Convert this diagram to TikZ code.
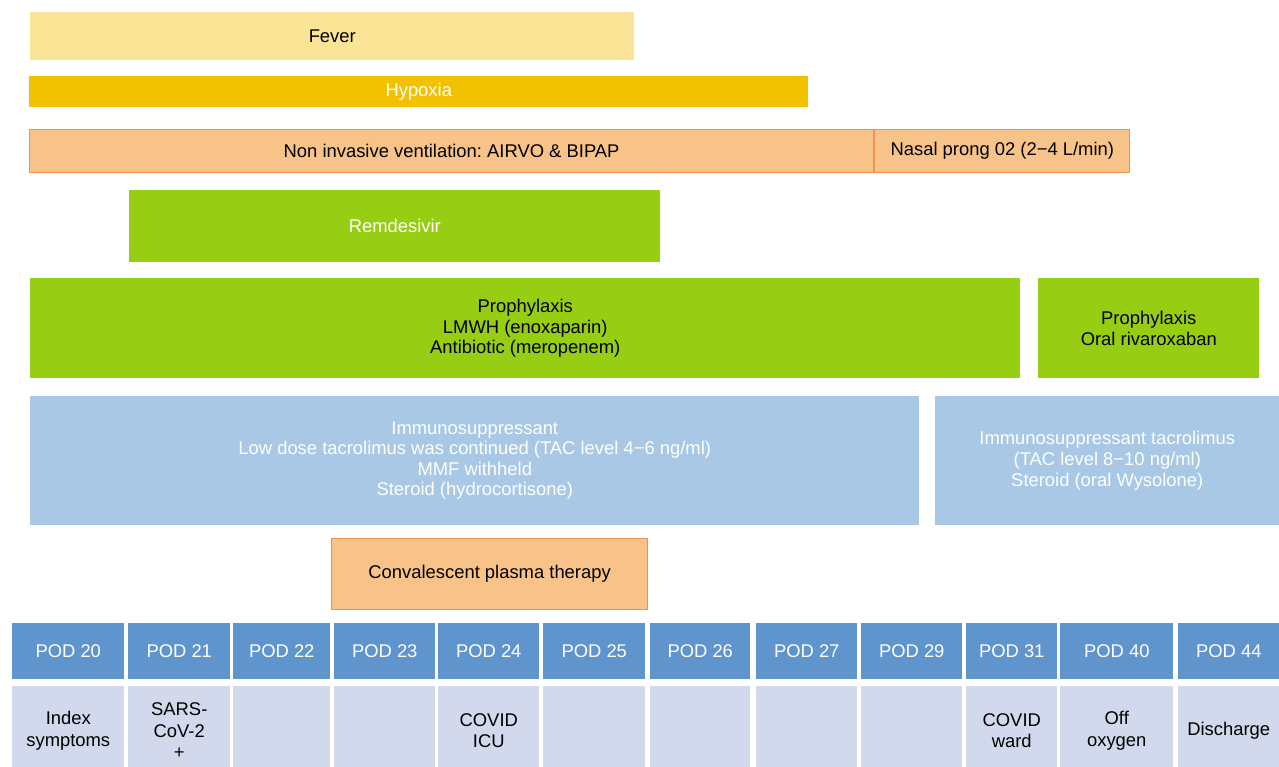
\documentclass[tikz,border=0pt]{standalone}
\usepackage{fontspec}
\setmainfont{Liberation Sans}
\usetikzlibrary{positioning}

\definecolor{feverfill}{HTML}{FAE597}
\definecolor{hypoxiafill}{HTML}{F2C200}
\definecolor{oxyfill}{HTML}{F7C389}
\definecolor{oxyline}{HTML}{F0934E}
\definecolor{drugfill}{HTML}{97CD13}
\definecolor{immunofill}{HTML}{A8C8E6}
\definecolor{podfill}{HTML}{6094CC}
\definecolor{eventfill}{HTML}{D3D9EC}

\begin{document}
\begin{tikzpicture}[x=0.75pt,y=-0.75pt,font=\fontsize{13.8}{15.4}\selectfont,
  every node/.style={inner sep=0pt, align=center, anchor=north west},
  bar/.style 2 args={minimum width=#1*0.75pt, minimum height=#2*0.75pt}]
  \tikzstyle{fever}=[fill=feverfill]
  \tikzstyle{hypoxia}=[fill=hypoxiafill,text=white]
  \tikzstyle{oxygen}=[fill=oxyfill,draw=oxyline,line width=0.9pt]
  \tikzstyle{drug}=[fill=drugfill]
  \tikzstyle{immuno}=[fill=immunofill,text=white]
  \tikzstyle{pod}=[fill=podfill,text=white]
  \tikzstyle{event}=[fill=eventfill,font=\fontsize{13.8}{16}\selectfont]

  \useasboundingbox (0,0) rectangle (1279,767);

  \node[fever, bar={604}{48}] (fever) at (30,12) {Fever};
  \node[hypoxia, bar={779}{31}] (hypoxia) at (29,76) {Hypoxia};
  \node[oxygen, bar={844}{43}] (niv) at (29,129) {Non invasive ventilation:\ AIRVO \& BIPAP};
  \node[oxygen, bar={255}{43}] (nasal) at (niv.north east) {Nasal prong 02 (2−4 L/min)};
  \node[drug, text=white, bar={531}{72}] (remdesivir) at (129,190) {Remdesivir};
  \node[drug, bar={990}{100}] (proph) at (30,278) {Prophylaxis\\LMWH (enoxaparin)\\Antibiotic (meropenem)};
  \node[drug, bar={221}{100}] (prophoral) at (1038,278) {Prophylaxis\\Oral rivaroxaban};
  \node[immuno, bar={889}{129}] (immuno) at (30,396) {Immunosuppressant\\Low dose tacrolimus was continued (TAC level 4−6 ng/ml)\\MMF withheld\\Steroid (hydrocortisone)};
  \node[immuno, bar={344}{129}] (immunooral) at (935,396) {Immunosuppressant tacrolimus\\(TAC level 8−10 ng/ml)\\Steroid (oral Wysolone)};
  \node[oxygen, bar={316}{71}] (plasma) at (331,538) {Convalescent plasma therapy};

  % timeline: day header and event below it
  \foreach \d/\x/\w/\txt in {20/12/112/{Index\\symptoms}, 21/128/102/{SARS-\\CoV-2\\+},
      22/233/97/{}, 23/334/101/{}, 24/438/101/{COVID\\ICU}, 25/543/102/{},
      26/650/100/{}, 27/756/101/{}, 29/861/101/{}, 31/966/91/{COVID\\ward},
      40/1060/113/{Off\\oxygen}, 44/1178/101/{Discharge}}
  {
    \node[pod, bar={\w}{56}] (pod\d) at (\x,623) {POD \d};
    \node[event, bar={\w}{90}, below=4.5pt of pod\d] (event\d) {\txt};
  }
\end{tikzpicture}
\end{document}
